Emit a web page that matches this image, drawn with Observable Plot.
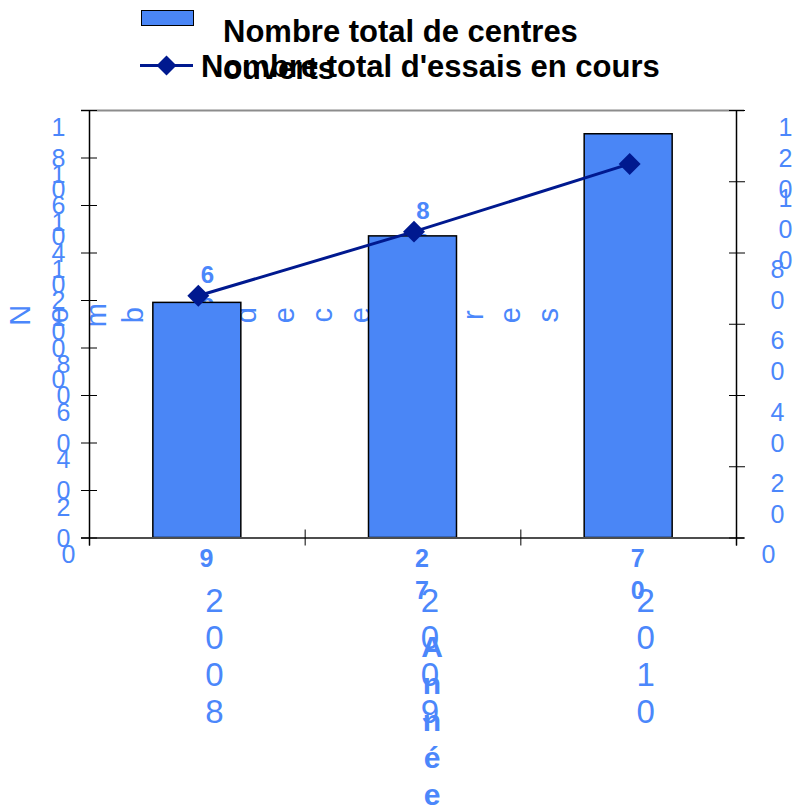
<!DOCTYPE html>
<html>
<head>
<meta charset="utf-8">
<script src="https://cdn.jsdelivr.net/npm/d3@7"></script>
<script src="https://cdn.jsdelivr.net/npm/@observablehq/plot@0.6"></script>
<style>
  html, body { margin: 0; padding: 0; background: #fff; }
  #chart { width: 795px; font-family: "Liberation Sans", Arial, sans-serif; }
  #legend { position: relative; width: 795px; height: 95px; }
  #legend .txt { position: absolute; font: bold 31px/37px "Liberation Sans", Arial, sans-serif; color: #000; }
</style>
</head>
<body>
<div id="chart">
  <div id="legend"></div>
</div>
<script>
// Series
const years = ["2008", "2009", "2010"];
const centres = [99, 127, 170];          // bars, left axis
const essais = [68, 86, 105];            // line, right axis
const seriesNames = ["Nombre total de centres ouverts", "Nombre total d'essais en cours"];

// Axes
const leftTicks = [0, 20, 40, 60, 80, 100, 120, 140, 160, 180];
const rightTicks = [0, 20, 40, 60, 80, 100, 120];
const yTitle = "Nombre de centres";
const xTitle = "Année";

const barColor = "#4a86f6";
const textBlue = "#4b87fb";
const lineColor = "#00198f";

const leftMax = d3.max(leftTicks);
const rightMax = d3.max(rightTicks);
const k = leftMax / rightMax;             // right axis -> left axis units

const rows = years.map((year, i) => ({ year, i, centres: centres[i], essais: essais[i] }));
// Labels are laid out one character per line
const stack = (s) => String(s).replace(/ /g, "").split("").join("\n");

// Legend
const legend = document.getElementById("legend");
legend.innerHTML = `
  <div style="position:absolute;left:141px;top:10px;width:51px;height:14px;background:${barColor};border:1.5px solid #000"></div>
  <svg style="position:absolute;left:0;top:0" width="795" height="95">
    <line x1="140" x2="193" y1="65.5" y2="65.5" stroke="${lineColor}" stroke-width="3"/>
    <path d="M166.5,55.5 L176.5,65.5 L166.5,75.5 L156.5,65.5Z" fill="${lineColor}"/>
  </svg>
  <div class="txt" style="left:201px;top:47.5px;white-space:nowrap">${seriesNames[1]}</div>
  <div class="txt" style="left:223px;top:12.5px;width:370px">${seriesNames[0]}</div>
`;

const axisText = (ticks, scaleBy, side, n, dx) => Plot.text(
  ticks.filter((v) => String(v).length === n),
  {
    y: (v) => v * scaleBy,
    text: (v) => stack(v),
    frameAnchor: side,
    textAnchor: "middle",
    dx, dy: 3,
    lineAnchor: "top",
    lineHeight: 1.24,
    fontSize: 25,
    fill: textBlue
  }
);

const chart = Plot.plot({
  width: 795,
  height: 712,
  marginTop: 15,
  marginBottom: 269.5,
  marginLeft: 89,
  marginRight: 59,
  style: { fontFamily: "'Liberation Sans', Arial, sans-serif", background: "#fff", overflow: "visible" },
  x: { type: "linear", domain: [0, years.length] },
  y: { type: "linear", domain: [0, leftMax] },
  marks: [
    // vertical axis title, characters stacked then turned
    Plot.text([yTitle], {
      text: (d) => stack(d),
      frameAnchor: "left",
      textAnchor: "middle",
      rotate: -90,
      lineAnchor: "top",
      lineHeight: 1.30,
      fontSize: 29,
      fill: textBlue,
      dx: -86,
      dy: -9
    }),

    // tick labels
    axisText(leftTicks, 1, "left", 1, -21),
    axisText(leftTicks, 1, "left", 2, -26),
    axisText(leftTicks, 1, "left", 3, -31),
    axisText(rightTicks, k, "right", 1, 32),
    axisText(rightTicks, k, "right", 2, 41),
    axisText(rightTicks, k, "right", 3, 49),

    // category labels and horizontal axis title
    Plot.text(rows, {
      x: (d) => d.i + 0.5, frameAnchor: "bottom", text: (d) => stack(d.year),
      lineAnchor: "top", lineHeight: 1.121, fontSize: 33, fill: textBlue, dx: 17, dy: 48
    }),
    Plot.text([xTitle], {
      x: years.length / 2, frameAnchor: "bottom", text: (d) => stack(d),
      lineAnchor: "top", lineHeight: 1.233, fontSize: 30, fontWeight: "bold", fill: textBlue, dx: 19, dy: 93
    }),

    // value labels
    Plot.text(rows, {
      x: (d) => d.i + 0.5, frameAnchor: "bottom", text: (d) => stack(d.centres),
      lineAnchor: "top", lineHeight: 1.28, fontSize: 25, fontWeight: "bold", fill: textBlue, dx: 9, dy: -25.3
    }),
    Plot.text(rows, {
      x: (d) => d.i + 0.5, y: (d) => d.essais * k, text: (d) => stack(d.essais),
      lineAnchor: "top", lineHeight: 1.333, fontSize: 24, fontWeight: "bold", fill: textBlue, dx: 10, dy: -35
    }),

    // bars
    Plot.rectY(rows, {
      x1: (d) => d.i + 0.5 - 0.204, x2: (d) => d.i + 0.5 + 0.204, y: "centres",
      fill: barColor, stroke: "#000", strokeWidth: 1.5
    }),

    // frame lines and ticks
    Plot.ruleY([leftMax], { stroke: "#8c8c8c", strokeWidth: 2, insetLeft: -8, insetRight: -8 }),
    Plot.ruleY([0], { stroke: "#4d4d4d", strokeWidth: 2, insetLeft: -8, insetRight: -8 }),
    Plot.ruleX([0], { stroke: "#000", strokeWidth: 1.5, insetBottom: -8 }),
    Plot.ruleX([years.length], { stroke: "#000", strokeWidth: 1.5, insetBottom: -8 }),
    Plot.axisY({ anchor: "left", ticks: leftTicks, tickSize: 16, dx: 8, tickFormat: () => "", label: null, stroke: "#000" }),
    Plot.axisY({ anchor: "right", ticks: rightTicks.map((v) => v * k), tickSize: 16, dx: -8, tickFormat: () => "", label: null, stroke: "#000" }),
    Plot.axisX({ anchor: "bottom", ticks: d3.range(years.length + 1), tickSize: 16, dy: -8, tickFormat: () => "", label: null, stroke: "#000" }),

    // line series on the right axis
    Plot.line(rows, { x: (d) => d.i + 0.5, y: (d) => d.essais * k, stroke: lineColor, strokeWidth: 3, dx: 1 }),
    Plot.dot(rows, { x: (d) => d.i + 0.5, y: (d) => d.essais * k, symbol: "diamond2", r: 9.9, fill: lineColor, stroke: "none", dx: 1 })
  ]
});

document.getElementById("chart").appendChild(chart);
</script>
</body>
</html>
